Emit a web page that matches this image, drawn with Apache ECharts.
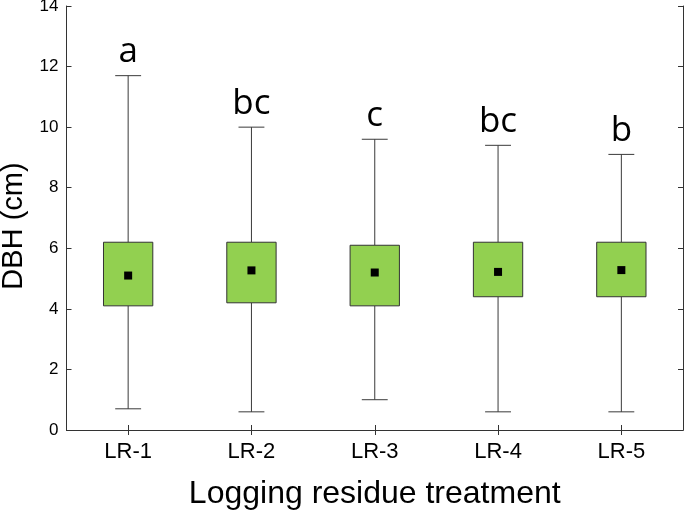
<!DOCTYPE html>
<html>
<head>
<meta charset="utf-8">
<script src="https://cdn.jsdelivr.net/npm/echarts@6/dist/echarts.min.js"></script>
<style>
html,body{margin:0;padding:0;background:#fff;}
#chart{width:685px;height:513px;}
</style>
</head>
<body>
<div id="chart"></div>
<script>
var categories = ['LR-1', 'LR-2', 'LR-3', 'LR-4', 'LR-5'];
var whiskerMin = [0.7, 0.6, 1.0, 0.6, 0.6];
var boxLow = [4.1, 4.2, 4.1, 4.4, 4.4];
var boxHigh = [6.2, 6.2, 6.1, 6.2, 6.2];
var whiskerMax = [11.7, 10.0, 9.6, 9.4, 9.1];
var means = [5.1, 5.27, 5.2, 5.22, 5.28];
var letters = ['a', 'bc', 'c', 'bc', 'b'];
var yTicks = [0, 2, 4, 6, 8, 10, 12, 14];

var seriesData = categories.map(function (c, i) {
  return [i, whiskerMin[i], boxLow[i], boxHigh[i], whiskerMax[i], means[i]];
});

var chart = echarts.init(document.getElementById('chart'));
var lineColor = '#333333';

function renderItem(params, api) {
  var idx = api.value(0);
  var pMin = api.coord([idx, api.value(1)]);
  var pLow = api.coord([idx, api.value(2)]);
  var pHigh = api.coord([idx, api.value(3)]);
  var pMax = api.coord([idx, api.value(4)]);
  var pMean = api.coord([idx, api.value(5)]);
  var band = api.size([1, 0])[0];
  var boxW = band * 0.4;
  var capW = band * 0.21;
  var x = pMin[0];
  var ls = { stroke: '#3a3a3a', lineWidth: 1 };
  return {
    type: 'group',
    children: [
      { type: 'line', shape: { x1: x, y1: pMin[1], x2: x, y2: pLow[1] }, style: ls },
      { type: 'line', shape: { x1: x, y1: pHigh[1], x2: x, y2: pMax[1] }, style: ls },
      { type: 'line', shape: { x1: x - capW / 2, y1: pMin[1], x2: x + capW / 2, y2: pMin[1] }, style: ls },
      { type: 'line', shape: { x1: x - capW / 2, y1: pMax[1], x2: x + capW / 2, y2: pMax[1] }, style: ls },
      { type: 'rect', shape: { x: x - boxW / 2, y: pHigh[1], width: boxW, height: pLow[1] - pHigh[1] },
        style: { fill: '#92d050', stroke: '#333333', lineWidth: 1 } },
      { type: 'rect', shape: { x: x - 4, y: pMean[1] - 4, width: 8, height: 8 },
        style: { fill: '#000000' } },
      { type: 'text', x: x, y: pMax[1] - 6,
        style: { text: letters[idx], fill: '#000', font: '35px "Open Sans"', align: 'center', verticalAlign: 'bottom' } }
    ]
  };
}

var option = {
  animation: false,
  backgroundColor: '#ffffff',
  grid: { left: 66.5, right: 2, top: 6, bottom: 83, containLabel: false, outerBoundsMode: 'none' },
  xAxis: [
    {
      type: 'category', data: categories, position: 'bottom',
      name: 'Logging residue treatment', nameLocation: 'middle', nameGap: 48,
      nameTextStyle: { fontFamily: 'Liberation Sans', fontSize: 32, color: '#000' },
      axisLine: { show: true, lineStyle: { color: lineColor, width: 1 } },
      axisTick: { show: true, inside: true, alignWithLabel: true, length: 5, lineStyle: { color: lineColor } },
      axisLabel: { fontFamily: 'Liberation Sans', fontSize: 22, color: '#000', margin: 11 },
      splitLine: { show: false }
    },
    {
      type: 'category', data: categories, position: 'top',
      axisLine: { show: true, lineStyle: { color: lineColor, width: 1 } },
      axisTick: { show: true, inside: true, alignWithLabel: true, length: 5, lineStyle: { color: lineColor } },
      axisLabel: { show: false }, splitLine: { show: false }
    }
  ],
  yAxis: [
    {
      type: 'value', min: 0, max: 14, interval: 2, position: 'left',
      name: 'DBH (cm)', nameLocation: 'middle', nameGap: 35, nameRotate: 90,
      nameTextStyle: { fontFamily: 'Liberation Sans', fontSize: 29, color: '#000', padding: [0, 16, 0, 0] },
      axisLine: { show: true, lineStyle: { color: lineColor, width: 1 } },
      axisTick: { show: true, inside: true, length: 5, lineStyle: { color: lineColor } },
      axisLabel: { fontFamily: 'Liberation Sans', fontSize: 17, color: '#000', margin: 8,
        formatter: function (v) { return yTicks.indexOf(v) >= 0 ? String(v) : ''; } },
      splitLine: { show: false }
    },
    {
      type: 'value', min: 0, max: 14, interval: 2, position: 'right',
      axisLine: { show: true, lineStyle: { color: lineColor, width: 1 } },
      axisTick: { show: true, inside: true, length: 5, lineStyle: { color: lineColor } },
      axisLabel: { show: false }, splitLine: { show: false }
    }
  ],
  series: [
    {
      type: 'custom', xAxisIndex: 0, yAxisIndex: 0,
      renderItem: renderItem,
      encode: { x: 0, y: [1, 2, 3, 4, 5] },
      data: seriesData,
      clip: false
    }
  ]
};
chart.setOption(option);
</script>
</body>
</html>
